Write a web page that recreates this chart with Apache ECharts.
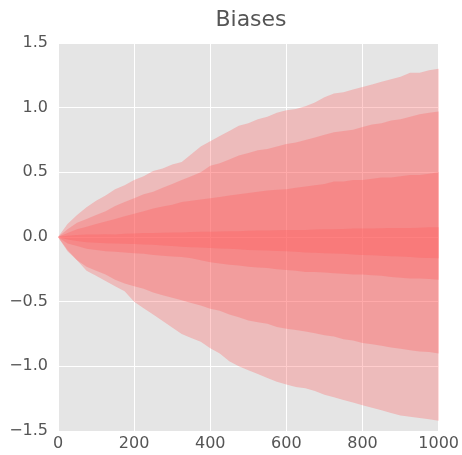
<!DOCTYPE html>
<html>
<head>
<meta charset="utf-8">
<script src="https://cdn.jsdelivr.net/npm/echarts@6/dist/echarts.min.js"></script>
<style>
  html, body { margin: 0; padding: 0; background: #fff; }
  #chart { width: 462px; height: 455px; }
</style>
</head>
<body>
<div id="chart"></div>
<script>
// steps (x axis), one sample every 25
const steps = [0, 25, 50, 75, 100, 125, 150, 175, 200, 225, 250, 275, 300, 325, 350, 375, 400,
  425, 450, 475, 500, 525, 550, 575, 600, 625, 650, 675, 700, 725, 750, 775, 800, 825, 850,
  875, 900, 925, 950, 975, 1000]

// percentile boundaries
const p100 = [0, 0.10, 0.17, 0.23, 0.28, 0.32, 0.37, 0.40, 0.44, 0.47, 0.51, 0.53, 0.56, 0.58,
  0.64, 0.70, 0.74, 0.78, 0.82, 0.86, 0.88, 0.91, 0.93, 0.96, 0.98, 0.99, 1.01, 1.04, 1.08,
  1.11, 1.12, 1.14, 1.16, 1.18, 1.20, 1.22, 1.24, 1.27, 1.27, 1.29, 1.30]
const p93 = [0, 0.06, 0.11, 0.14, 0.17, 0.20, 0.24, 0.27, 0.30, 0.33, 0.35, 0.38, 0.41, 0.44,
  0.47, 0.50, 0.55, 0.57, 0.60, 0.63, 0.65, 0.67, 0.68, 0.70, 0.72, 0.73, 0.75, 0.77, 0.79,
  0.81, 0.82, 0.83, 0.85, 0.87, 0.88, 0.90, 0.91, 0.93, 0.95, 0.96, 0.97]
const p84 = [0, 0.03, 0.06, 0.08, 0.10, 0.12, 0.14, 0.16, 0.18, 0.20, 0.22, 0.235, 0.25, 0.27,
  0.28, 0.29, 0.30, 0.31, 0.32, 0.33, 0.34, 0.35, 0.36, 0.365, 0.37, 0.38, 0.39, 0.40, 0.41,
  0.43, 0.43, 0.44, 0.44, 0.45, 0.46, 0.46, 0.47, 0.48, 0.48, 0.49, 0.50]
const p69 = [0, 0.01, 0.015, 0.02, 0.02, 0.022, 0.02, 0.025, 0.028, 0.03, 0.03, 0.032, 0.035,
  0.035, 0.038, 0.04, 0.04, 0.042, 0.045, 0.045, 0.048, 0.05, 0.05, 0.052, 0.055, 0.055,
  0.055, 0.058, 0.06, 0.06, 0.062, 0.065, 0.065, 0.065, 0.068, 0.07, 0.07, 0.07, 0.072,
  0.075, 0.075]
const p31 = [0, -0.02, -0.03, -0.04, -0.045, -0.048, -0.05, -0.052, -0.055, -0.058, -0.06,
  -0.065, -0.07, -0.075, -0.08, -0.082, -0.085, -0.088, -0.09, -0.095, -0.10, -0.102, -0.105,
  -0.108, -0.11, -0.115, -0.12, -0.122, -0.125, -0.128, -0.13, -0.135, -0.14, -0.142, -0.145,
  -0.148, -0.15, -0.155, -0.16, -0.162, -0.165]
const p16 = [0, -0.05, -0.07, -0.09, -0.10, -0.11, -0.115, -0.12, -0.125, -0.13, -0.14, -0.145,
  -0.15, -0.155, -0.165, -0.18, -0.195, -0.205, -0.215, -0.22, -0.23, -0.235, -0.24, -0.25,
  -0.255, -0.26, -0.27, -0.27, -0.275, -0.28, -0.285, -0.29, -0.29, -0.295, -0.30, -0.31,
  -0.315, -0.32, -0.32, -0.325, -0.33]
const p7 = [0, -0.11, -0.18, -0.23, -0.26, -0.29, -0.33, -0.36, -0.38, -0.40, -0.43, -0.45,
  -0.47, -0.49, -0.51, -0.53, -0.555, -0.57, -0.60, -0.62, -0.645, -0.66, -0.67, -0.695,
  -0.71, -0.72, -0.73, -0.745, -0.76, -0.77, -0.79, -0.80, -0.82, -0.83, -0.84, -0.855,
  -0.865, -0.875, -0.885, -0.89, -0.90]
const p0 = [0, -0.10, -0.18, -0.26, -0.30, -0.34, -0.38, -0.42, -0.50, -0.55, -0.60, -0.65,
  -0.70, -0.75, -0.78, -0.81, -0.86, -0.90, -0.96, -1.00, -1.03, -1.06, -1.09, -1.12, -1.14,
  -1.16, -1.17, -1.19, -1.22, -1.24, -1.26, -1.28, -1.30, -1.32, -1.34, -1.36, -1.38, -1.39,
  -1.40, -1.41, -1.42]

// nested bands, outermost first: [lower, upper]
const bands = [[p0, p100], [p7, p93], [p16, p84], [p31, p69]]
const bandColor = 'rgba(255, 90, 90, 0.3)'

const fmt = (v) => (v < 0 ? '\u2212' : '') + Math.abs(v).toFixed(1)

var myChart = echarts.init(document.getElementById('chart'))
myChart.setOption({
  animation: false,
  textStyle: { fontFamily: 'DejaVu Sans' },
  title: {
    text: 'Biases', left: 246, top: 4, textAlign: 'center',
    textStyle: { fontFamily: 'DejaVu Sans', fontSize: 22, fontWeight: 'normal', color: '#555' }
  },
  grid: {
    left: 58, right: 22, top: 43, bottom: 24,
    show: true, backgroundColor: '#e5e5e5', borderWidth: 0
  },
  xAxis: {
    type: 'value', min: 0, max: 1000, interval: 200,
    axisLine: { show: false }, axisTick: { show: false },
    splitLine: { lineStyle: { color: '#fff', width: 1 } },
    axisLabel: { fontSize: 16, color: '#555', margin: 5, formatter: (v) => String(v) }
  },
  yAxis: {
    type: 'value', min: -1.5, max: 1.5, interval: 0.5,
    axisLine: { show: false }, axisTick: { show: false },
    splitLine: { lineStyle: { color: '#fff', width: 1 } },
    axisLabel: { fontSize: 16, color: '#555', margin: 10, formatter: fmt }
  },
  series: [{
    type: 'custom',
    silent: true,
    data: bands.map((b, i) => [steps[0], i]),
    encode: { x: 0, y: 1 },
    renderItem(params, api) {
      const b = bands[params.dataIndex]
      const upper = steps.map((s, j) => api.coord([s, b[1][j]]))
      const lower = steps.map((s, j) => api.coord([s, b[0][j]])).reverse()
      return {
        type: 'polygon',
        shape: { points: upper.concat(lower) },
        style: { fill: bandColor }
      }
    }
  }]
})
</script>
</body>
</html>
